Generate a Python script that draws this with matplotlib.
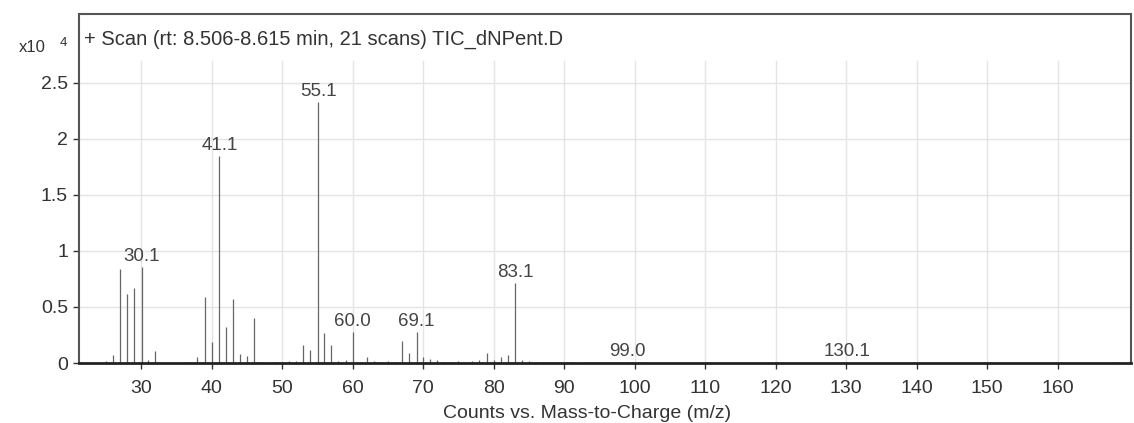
import matplotlib
matplotlib.use("Agg")
import matplotlib.pyplot as plt
import numpy as np

plt.rcParams["font.family"] = ["Liberation Sans", "DejaVu Sans"]

# espectro de massas (valores em x10^4 contagens)
mz = [25, 26, 27, 28, 29, 30.1, 31, 32, 37, 38, 39, 40, 41.1, 42, 43, 44, 45, 46,
      47, 49, 50, 51, 52, 53, 54, 55.1, 56, 57, 58, 59, 60.0, 61, 62, 63, 64, 65,
      66, 67, 68, 69.1, 70, 71, 72, 73, 74, 75, 77, 78, 79, 80, 81, 82, 83.1, 84,
      85, 86, 87, 88, 89, 91, 93, 95, 96, 97, 98, 99.0, 101, 130.1, 168]
contagens = [0.02, 0.07, 0.84, 0.62, 0.67, 0.86, 0.03, 0.11, 0.01, 0.05, 0.59, 0.19,
             1.85, 0.32, 0.57, 0.08, 0.06, 0.40, 0.01, 0.01, 0.01, 0.02, 0.02, 0.16,
             0.12, 2.33, 0.27, 0.16, 0.02, 0.03, 0.28, 0.01, 0.05, 0.02, 0.01, 0.02,
             0.01, 0.20, 0.09, 0.28, 0.05, 0.04, 0.03, 0.01, 0.01, 0.02, 0.02, 0.03,
             0.09, 0.03, 0.05, 0.07, 0.71, 0.03, 0.02, 0.01, 0.01, 0.01, 0.01, 0.01,
             0.01, 0.01, 0.01, 0.01, 0.01, 0.01, 0.005, 0.005, 0.01]
picos_rotulados = [30.1, 41.1, 55.1, 60.0, 69.1, 83.1, 99.0, 130.1]

titulo = "+ Scan (rt: 8.506-8.615 min, 21 scans) TIC_dNPent.D"
xticks = np.arange(30, 170, 10)
yticks = [0, 0.5, 1, 1.5, 2, 2.5]

fig = plt.figure(figsize=(11.34, 4.23), dpi=100)
ax = fig.add_axes([79 / 1134, 1 - 363 / 423, (1131 - 79) / 1134, (363 - 14) / 423])
ax.set_xlim(21.2, 170.4)
ax.set_ylim(0, 3.116)

# grade (vertical so abaixo da faixa do titulo)
for t in xticks:
    ax.plot([t, t], [0, 2.7], color="#e4e4e4", lw=1, zorder=0)
for t in yticks[1:]:
    ax.axhline(t, color="#e4e4e4", lw=1, zorder=0)

ax.vlines(mz, 0, contagens, color="#666666", lw=0.9, zorder=2)

for m, c in zip(mz, contagens):
    if m in picos_rotulados:
        ax.annotate(f"{m:.1f}", (m, c), xytext=(0, 1.5), textcoords="offset points",
                    ha="center", va="bottom", fontsize=13.5, color="#444444")

ax.text(5 / 1052, 1 - 25 / 349, titulo, transform=ax.transAxes, fontsize=14.5,
        color="#333333", va="center")
fig.text(19 / 1134, 1 - 47 / 423, "x10", fontsize=12, color="#333333", va="center")
fig.text(60 / 1134, 1 - 43 / 423, "4", fontsize=9.5, color="#333333", va="center")

ax.set_xticks(xticks)
ax.set_yticks(yticks)
ax.set_yticklabels(["0", "0.5", "1", "1.5", "2", "2.5"])
ax.tick_params(labelsize=14, colors="#333333", length=4, width=1)
ax.tick_params(axis="y", pad=4)
ax.tick_params(axis="x", pad=8)
ax.set_xlabel("Counts vs. Mass-to-Charge (m/z)", fontsize=14, color="#333333")
ax.xaxis.set_label_coords((587 - 79) / 1052, -50 / 349)
ax.xaxis.label.set_va("center")

for s in ["left", "top", "right"]:
    ax.spines[s].set_color("#555555")
    ax.spines[s].set_linewidth(1.5)
ax.spines["bottom"].set_color("#222222")
ax.spines["bottom"].set_linewidth(2)

fig.savefig("out.png", dpi=100)
